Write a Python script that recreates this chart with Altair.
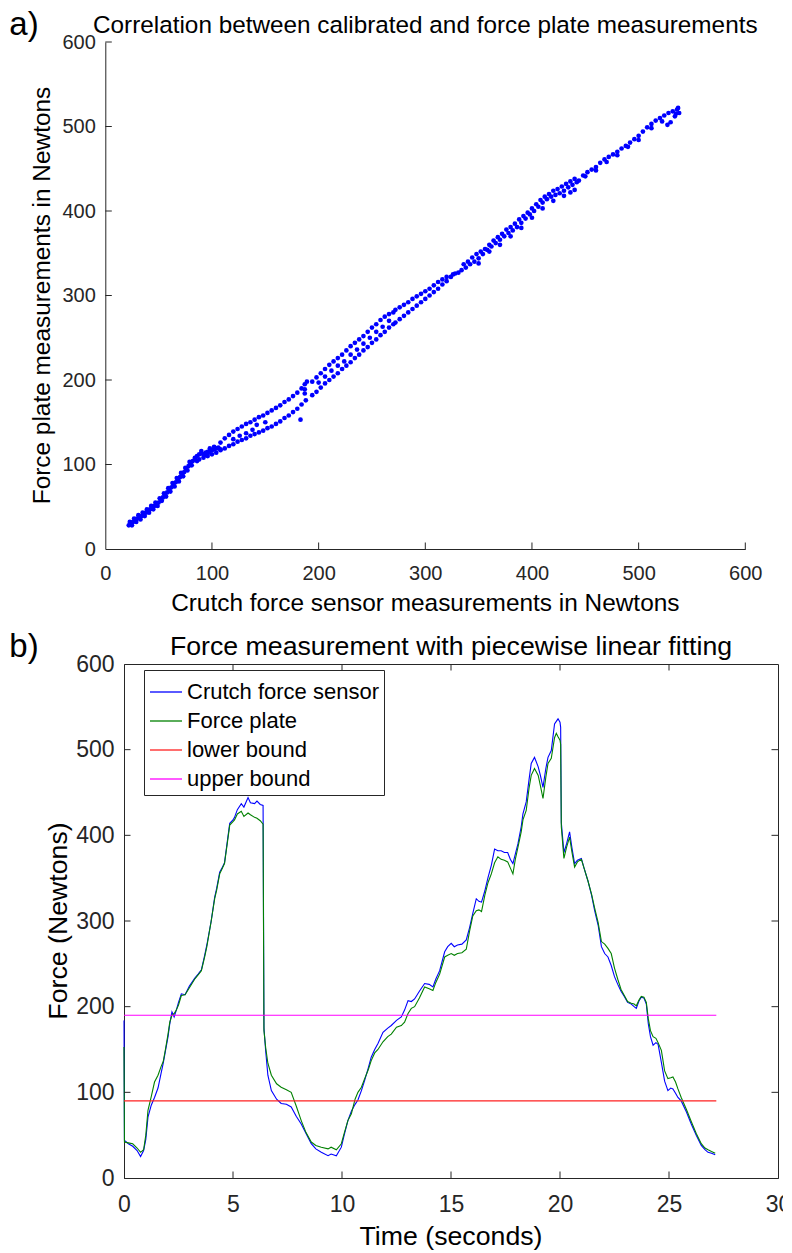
import altair as alt
import pandas as pd

FONT = "Liberation Sans"
AX = "#262626"

# ---------------- Panel a: scatter (sensor N vs force plate N) ----------------
s1_sensor = [22, 24, 26, 28, 30, 32, 34, 36, 38, 40, 42, 44, 46, 48, 50, 52,
             54, 56, 58, 60, 62, 64, 66, 68, 70, 72, 74, 76, 78, 80, 82, 84]
s1_plate = [28, 30, 32, 34, 36, 37, 39, 41, 43, 45, 47, 49, 51, 53, 55, 58,
            61, 64, 67, 70, 73, 76, 79, 82, 85, 88, 91, 94, 98, 101, 104, 106]
s1b_sensor = [23, 27, 31, 35, 39, 43, 47, 51, 55, 59, 63, 67, 71, 75, 79]
s1b_plate = [32, 36, 40, 43, 47, 51, 55, 60, 66, 72, 78, 84, 90, 96, 103]
s1c_sensor = [25, 29, 33, 37, 41, 45, 49, 53, 57, 61, 65, 69, 73, 77, 81]
s1c_plate = [28, 32, 35, 39, 43, 47, 51, 57, 62, 68, 74, 80, 86, 93, 99]

c_sensor = [84, 86, 88, 90, 92, 94, 96, 98, 100, 102, 104, 106,
            88, 92, 96, 100, 104, 108, 86, 94, 98, 102, 90, 96]
c_plate = [108, 110, 112, 113, 112, 114, 115, 116, 117, 118, 119, 120,
           106, 108, 110, 112, 114, 118, 104, 111, 119, 121, 116, 113]

ub_sensor = [108, 112, 116, 120, 124, 128, 132, 136, 140, 144, 148,
             152, 156, 160, 164, 168, 172, 176, 180, 184, 187, 189]
ub_plate = [126, 131, 135, 139, 142, 145, 148, 150, 153, 156, 158,
            161, 164, 167, 170, 174, 177, 181, 185, 190, 195, 198]
lc_sensor = [108, 112, 116, 120, 124, 128, 132, 136, 140, 144, 148,
             152, 156, 160, 164, 168, 172, 176, 180, 184, 188]
lc_plate = [117, 119, 122, 124, 127, 129, 131, 134, 136, 138, 140,
            143, 145, 148, 151, 155, 158, 162, 166, 171, 176]
m_sensor = [120, 126, 132, 138, 142, 150, 187, 187, 183]
m_plate = [130, 134, 137, 141, 147, 150, 184, 189, 153]

du_sensor = [194, 198, 202, 206, 210, 214, 218, 222, 226, 230,
             234, 238, 242, 246, 250, 254, 258, 262, 266, 270]
du_plate = [198, 203, 208, 213, 218, 222, 226, 230, 235, 240,
            244, 248, 252, 257, 262, 266, 271, 275, 278, 280]
dl_sensor = [194, 198, 202, 206, 210, 214, 218, 222, 226, 230,
             234, 238, 242, 246, 250, 254, 258, 262, 266, 270]
dl_plate = [182, 186, 191, 196, 200, 204, 208, 213, 217, 221,
            226, 230, 235, 239, 244, 248, 253, 257, 262, 266]
dm_sensor = [200, 206, 212, 218, 224, 230, 236, 242, 248, 254, 260, 266]
dm_plate = [197, 204, 211, 217, 222, 230, 236, 243, 250, 257, 263, 270]

eu_sensor = [272, 276, 280, 284, 288, 292, 296, 300, 304, 308, 312, 316, 320]
eu_plate = [283, 286, 289, 292, 296, 299, 302, 305, 308, 312, 316, 319, 322]
el_sensor = [272, 276, 280, 284, 288, 292, 296, 300, 304, 308, 312, 316, 320]
el_plate = [268, 272, 276, 280, 284, 288, 292, 296, 300, 304, 308, 313, 317]
ec_sensor = [324, 326, 328, 331]
ec_plate = [322, 325, 326, 327]

f1_sensor = [334, 338, 342, 346, 350, 354, 358, 362, 366, 370, 374, 378, 382, 386,
             390, 394, 398, 402, 406, 410, 414, 418, 422, 426, 430, 434, 438, 442]
f1_plate = [330, 333, 337, 340, 344, 349, 354, 358, 362, 366, 370, 374, 377, 381,
            386, 391, 396, 400, 405, 410, 414, 417, 419, 421, 424, 428, 431, 434]
f2_sensor = [336, 340, 344, 348, 352, 356, 360, 364, 368, 372, 376, 380, 384, 388,
             392, 396, 400, 404, 408, 412, 416, 420, 424, 428, 432, 436, 440]
f2_plate = [337, 340, 345, 349, 352, 355, 360, 365, 369, 373, 378, 381, 385, 390,
            394, 398, 403, 408, 413, 417, 420, 424, 426, 429, 432, 435, 438]
f3_sensor = [350, 360, 370, 380, 390, 400, 410, 420, 430, 436, 440]
f3_plate = [338, 352, 360, 370, 380, 392, 403, 412, 418, 422, 425]

g1_sensor = [444, 448, 452, 456, 460, 464, 468, 472, 476, 480, 484, 488, 492,
             496, 500, 504, 508, 512, 516, 520, 524, 528, 532, 536, 538]
g1_plate = [436, 442, 446, 449, 452, 457, 461, 464, 467, 470, 474, 477, 481,
            485, 489, 494, 499, 503, 507, 510, 513, 516, 518, 520, 516]
g2_sensor = [450, 460, 470, 480, 490, 500, 512, 522, 527, 530, 534, 537, 535]
g2_plate = [441, 448, 458, 466, 476, 484, 498, 506, 502, 505, 512, 522, 515]

# ---------------- Panel b: time series ----------------
time_s = [0.00, 0.02, 0.20, 0.40, 0.60, 0.76, 0.90, 1.00, 1.10, 1.25,
          1.40, 1.56, 1.70, 1.80, 1.90, 2.02, 2.10, 2.20, 2.30, 2.40,
          2.50, 2.63, 2.80, 3.00, 3.24, 3.40, 3.55, 3.70, 3.80, 4.00,
          4.16, 4.25, 4.39, 4.50, 4.61, 4.75, 4.85, 5.00, 5.07, 5.20,
          5.38, 5.50, 5.69, 5.80, 5.99, 6.10, 6.25, 6.38, 6.42, 6.50,
          6.60, 6.76, 7.00, 7.21, 7.45, 7.67, 7.90, 8.13, 8.35, 8.59,
          8.80, 9.05, 9.36, 9.50, 9.74, 9.97, 10.10, 10.27, 10.43, 10.60,
          10.73, 10.89, 11.04, 11.20, 11.34, 11.50, 11.65, 11.88, 12.10, 12.26,
          12.50, 12.72, 12.87, 13.03, 13.18, 13.33, 13.55, 13.79, 14.00, 14.17,
          14.30, 14.48, 14.71, 14.85, 15.01, 15.15, 15.30, 15.50, 15.70, 15.85,
          16.00, 16.16, 16.28, 16.40, 16.55, 16.70, 16.85, 17.00, 17.15, 17.30,
          17.45, 17.60, 17.72, 17.84, 17.95, 18.07, 18.22, 18.30, 18.45, 18.58,
          18.68, 18.83, 19.00, 19.10, 19.22, 19.35, 19.45, 19.60, 19.75, 19.83,
          19.91, 20.00, 20.03, 20.06, 20.18, 20.30, 20.44, 20.55, 20.67, 20.80,
          20.98, 21.10, 21.28, 21.45, 21.59, 21.75, 21.90, 22.05, 22.20, 22.35,
          22.50, 22.65, 22.80, 22.95, 23.10, 23.27, 23.40, 23.50, 23.63, 23.73,
          23.85, 23.96, 24.05, 24.15, 24.27, 24.40, 24.50, 24.65, 24.80, 24.95,
          25.08, 25.18, 25.30, 25.41, 25.56, 25.80, 26.02, 26.25, 26.48, 26.65,
          26.79, 26.95, 27.12]
sensor_n = [184, 44, 40, 37, 32, 25, 32, 45, 71, 85,
            94, 105, 122, 134, 148, 165, 180, 194, 188, 196,
            205, 215, 214, 224, 233, 238, 243, 260, 272, 300,
            328, 338, 357, 362, 368, 395, 414, 418, 421, 430,
            437, 433, 444, 438, 437, 440, 436, 435, 175, 148,
            120, 102, 92, 87, 86, 83, 72, 63, 52, 40,
            34, 30, 26, 28, 26, 36, 50, 67, 78, 86,
            91, 102, 114, 128, 141, 150, 157, 170, 175, 178,
            184, 188, 196, 207, 206, 209, 218, 227, 226, 223,
            232, 242, 264, 270, 274, 270, 272, 273, 278, 292,
            309, 326, 323, 322, 335, 351, 365, 384, 382, 382,
            380, 380, 372, 367, 378, 390, 410, 425, 439, 465,
            484, 491, 480, 470, 456, 478, 491, 499, 530, 533,
            536, 532, 526, 415, 380, 390, 404, 385, 367, 371,
            373, 362, 347, 330, 312, 295, 270, 262, 258, 248,
            235, 226, 218, 212, 205, 203, 200, 198, 207, 211,
            210, 203, 180, 165, 155, 158, 156, 135, 113, 102,
            105, 104, 99, 94, 90, 77, 63, 50, 38, 33,
            30, 29, 27]
plate_n = [153, 42, 41, 40, 35, 30, 33, 50, 79, 95,
           112, 120, 130, 136, 150, 168, 182, 190, 192, 196,
           202, 213, 214, 222, 232, 237, 242, 258, 270, 300,
           326, 336, 355, 361, 367, 393, 412, 416, 418, 425,
           428, 422, 426, 424, 421, 420, 417, 413, 172, 152,
           134, 120, 110, 106, 103, 100, 84, 67, 53, 42,
           38, 36, 34, 36, 33, 40, 52, 67, 75, 92,
           100, 106, 116, 126, 137, 146, 150, 159, 165, 168,
           176, 178, 182, 192, 198, 200, 210, 223, 221, 219,
           228, 238, 258, 260, 262, 260, 262, 263, 267, 288,
           306, 312, 313, 311, 330, 345, 355, 368, 375, 372,
           371, 369, 362, 355, 372, 386, 404, 418, 429, 455,
           470, 478, 470, 458, 443, 468, 484, 490, 514, 519,
           515, 511, 506, 410, 373, 386, 398, 380, 363, 369,
           372, 362, 347, 331, 315, 298, 276, 273, 268, 262,
           245, 232, 220, 213, 206, 204, 203, 201, 208, 212,
           211, 205, 186, 172, 165, 163, 158, 149, 125, 116,
           117, 118, 112, 104, 94, 80, 66, 52, 40, 35,
           33, 31, 29]
lower_bound = 90
upper_bound = 190
bound_t = [0.0, 27.17]

series_names = ["Crutch force sensor", "Force plate", "lower bound", "upper bound"]
series_colors = ["#0000ff", "#008000", "#ff2020", "#ff00ff"]

ticks_a = [100, 200, 300, 400, 500, 600]
labels_a = [0, 100, 200, 300, 400, 500, 600]
ticks_bx = [5, 10, 15, 20, 25]
labels_bx = [0, 5, 10, 15, 20, 25, 30]
ticks_by = [100, 200, 300, 400, 500]
labels_by = [0, 100, 200, 300, 400, 500, 600]

# ---------------- build tables ----------------
sx, sy = [], []
for a, b in [(s1_sensor, s1_plate), (s1b_sensor, s1b_plate), (s1c_sensor, s1c_plate),
             (c_sensor, c_plate), (ub_sensor, ub_plate), (lc_sensor, lc_plate),
             (m_sensor, m_plate), (du_sensor, du_plate), (dl_sensor, dl_plate),
             (dm_sensor, dm_plate), (eu_sensor, eu_plate), (el_sensor, el_plate),
             (ec_sensor, ec_plate), (f1_sensor, f1_plate), (f2_sensor, f2_plate),
             (f3_sensor, f3_plate), (g1_sensor, g1_plate), (g2_sensor, g2_plate)]:
    sx += a
    sy += b
df_a = pd.DataFrame({"sensor": sx, "plate": sy})

rows = []
for t, v in zip(time_s, sensor_n):
    rows.append({"t": t, "force": v, "series": series_names[0]})
for t, v in zip(time_s, plate_n):
    rows.append({"t": t, "force": v, "series": series_names[1]})
for t in bound_t:
    rows.append({"t": t, "force": lower_bound, "series": series_names[2]})
for t in bound_t:
    rows.append({"t": t, "force": upper_bound, "series": series_names[3]})
df_b = pd.DataFrame(rows)

W1, H1 = 640, 507
W2, H2 = 654, 514
SH = 18.7          # panel a plot sits this far left of panel b's plot
TL = 6.5


def text_layer(txt, x, y, size, angle=0, align="center", baseline="alphabetic", color="#000000"):
    return alt.Chart(pd.DataFrame({"k": [0]})).mark_text(
        text=txt, fontSize=size, font=FONT, color=color, align=align,
        baseline=baseline, angle=angle
    ).encode(x=alt.value(x), y=alt.value(y))


def make_axis(vals, size, pad, offset=0):
    return alt.Axis(values=vals, title=None, tickSize=0, ticks=False, labelFontSize=size,
                    labelPadding=pad, labelFont=FONT, labelColor=AX, domainColor=AX,
                    domainWidth=1, grid=False, labelFlush=False, labelOverlap=False,
                    offset=offset)


# ---------------- Panel a ----------------
xs_a = alt.Scale(domain=[0, 600], nice=False, range=[-SH, W1 - SH])
ys_a = alt.Scale(domain=[0, 600], nice=False)
xax_a = make_axis(labels_a, 20, 14)
yax_a = make_axis(labels_a, 20, 10, offset=SH)

scatter = alt.Chart(df_a).mark_circle(size=22, color="#0000ff", opacity=1).encode(
    x=alt.X("sensor:Q", scale=xs_a, axis=xax_a),
    y=alt.Y("plate:Q", scale=ys_a, axis=yax_a),
)
tick_ax = alt.Chart(pd.DataFrame({"v": ticks_a})).mark_rule(color=AX, strokeWidth=1).encode(
    x=alt.X("v:Q", scale=xs_a, axis=xax_a), y=alt.value(H1), y2=alt.value(H1 - TL))
tick_ay = alt.Chart(pd.DataFrame({"v": ticks_a})).mark_rule(color=AX, strokeWidth=1).encode(
    y=alt.Y("v:Q", scale=ys_a, axis=yax_a), x=alt.value(-SH), x2=alt.value(-SH + TL))

panel_a = alt.layer(
    scatter, tick_ax, tick_ay,
    text_layer("a)", -114.7, -33, 33, align="left", baseline="top"),
    text_layer("Correlation between calibrated and force plate measurements",
               W1 / 2 - SH, -8.7, 24.3),
    text_layer("Crutch force sensor measurements in Newtons", W1 / 2 - SH, H1 + 62, 24.4),
    text_layer("Force plate measurements in Newtons", -62 - SH, H1 / 2, 24.4,
               angle=270, baseline="middle"),
).properties(width=W1, height=H1)

# ---------------- Panel b ----------------
xs_b = alt.Scale(domain=[0, 30], nice=False)
ys_b = alt.Scale(domain=[0, 600], nice=False)
xax_b = make_axis(labels_bx, 23, 15)
yax_b = make_axis(labels_by, 23, 10)

lines = alt.Chart(df_b).mark_line(strokeWidth=1.1).encode(
    x=alt.X("t:Q", scale=xs_b, axis=xax_b),
    y=alt.Y("force:Q", scale=ys_b, axis=yax_b),
    color=alt.Color("series:N", scale=alt.Scale(domain=series_names, range=series_colors),
                    legend=alt.Legend(
                        title=None, orient="none", legendX=20, legendY=6,
                        symbolType="stroke", symbolSize=1024, symbolStrokeWidth=1.3,
                        labelFontSize=22, labelFont=FONT, labelColor="#000000",
                        strokeColor=AX, fillColor="white", padding=5, rowPadding=1,
                        labelOffset=4, labelLimit=400)),
    detail="series:N",
)
tb_bottom = alt.Chart(pd.DataFrame({"v": ticks_bx})).mark_rule(color=AX, strokeWidth=1).encode(
    x=alt.X("v:Q", scale=xs_b, axis=xax_b), y=alt.value(H2), y2=alt.value(H2 - TL))
tb_top = alt.Chart(pd.DataFrame({"v": ticks_bx})).mark_rule(color=AX, strokeWidth=1).encode(
    x=alt.X("v:Q", scale=xs_b, axis=xax_b), y=alt.value(0), y2=alt.value(TL))
tb_left = alt.Chart(pd.DataFrame({"v": ticks_by})).mark_rule(color=AX, strokeWidth=1).encode(
    y=alt.Y("v:Q", scale=ys_b, axis=yax_b), x=alt.value(0), x2=alt.value(TL))
tb_right = alt.Chart(pd.DataFrame({"v": ticks_by})).mark_rule(color=AX, strokeWidth=1).encode(
    y=alt.Y("v:Q", scale=ys_b, axis=yax_b), x=alt.value(W2 - TL), x2=alt.value(W2))

panel_b = alt.layer(
    lines, tb_bottom, tb_top, tb_left, tb_right,
    text_layer("b)", -114.7, -33, 33, align="left", baseline="top"),
    text_layer("Force measurement with piecewise linear fitting", W2 / 2, -9.4, 26.7),
    text_layer("Time (seconds)", W2 / 2, H2 + 67.3, 26.7),
    text_layer("Force (Newtons)", -64.7, H2 / 2, 26.7, angle=270, baseline="middle"),
).properties(width=W2, height=H2, view=alt.ViewBackground(stroke=AX, strokeWidth=1))

chart = alt.concat(panel_a, panel_b, columns=1, spacing=14, align="none").resolve_legend(
    color="independent"
).properties(
    padding={"left": 0, "top": 0, "right": -9, "bottom": 0}
).configure(font=FONT).configure_view(stroke="transparent")

chart.save("out.html", embed_options={"renderer": "svg", "actions": False})
